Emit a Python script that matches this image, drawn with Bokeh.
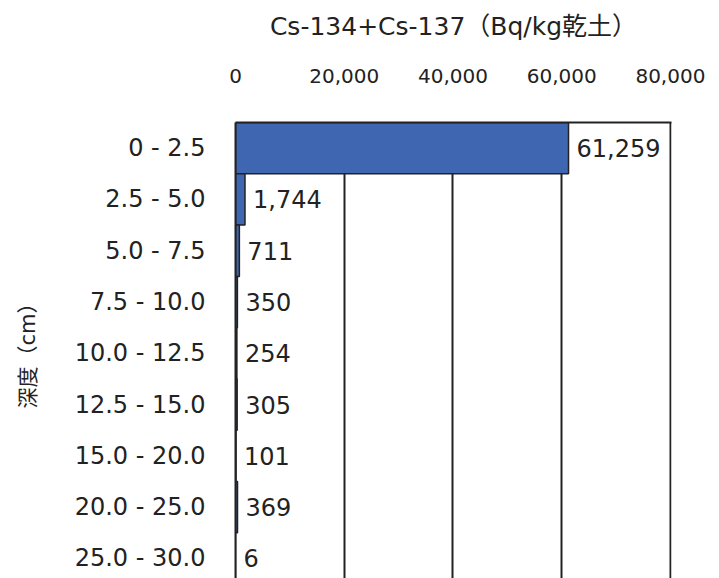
from bokeh.plotting import figure
from bokeh.models import Range1d, FixedTicker, NumeralTickFormatter, ColumnDataSource
from bokeh.embed import file_html
from bokeh.resources import INLINE

depths = ["0 - 2.5", "2.5 - 5.0", "5.0 - 7.5", "7.5 - 10.0", "10.0 - 12.5",
          "12.5 - 15.0", "15.0 - 20.0", "20.0 - 25.0", "25.0 - 30.0"]
values = [61259, 1744, 711, 350, 254, 305, 101, 369, 6]
x_ticks = [0, 20000, 40000, 60000, 80000]

FONT = "'DejaVu Sans', 'Noto Sans CJK JP'"
TXT = "#222222"

pos = list(range(len(depths)))
src = ColumnDataSource(dict(y=pos, v=values, lab=[f"{v:,}" for v in values]))

p = figure(width=719, height=578, output_backend="svg", toolbar_location=None,
           x_range=Range1d(0, 80200), y_range=Range1d(8.39, -0.5),
           x_axis_location="above", min_border_left=235, min_border_top=122,
           min_border_right=48, min_border_bottom=0)
p.outline_line_color = None

p.hbar(y="y", right="v", left=0, height=1.0, source=src,
       fill_color="#3F67B1", line_color="#222222", line_width=1.5)
p.text(x="v", y="y", text="lab", source=src, x_offset=8,
       text_align="left", text_baseline="middle", text_font_size="24px",
       text_color=TXT, text_font={"value": FONT})

xa = p.xaxis[0]
xa.ticker = FixedTicker(ticks=x_ticks)
xa.formatter = NumeralTickFormatter(format="0,0")
xa.axis_label = "Cs-134+Cs-137（Bq/kg乾土）"
xa.axis_label_text_font = FONT
xa.axis_label_text_font_style = "normal"
xa.axis_label_text_font_size = "25px"
xa.axis_label_text_color = TXT
xa.axis_label_standoff = 25
xa.major_label_text_font = FONT
xa.major_label_text_font_size = "20px"
xa.major_label_text_color = TXT
xa.major_label_standoff = 34
xa.major_tick_line_color = None
xa.minor_tick_line_color = None
xa.axis_line_color = "#222222"
xa.axis_line_width = 2

ya = p.yaxis[0]
ya.ticker = FixedTicker(ticks=pos)
ya.major_label_overrides = {i: d for i, d in enumerate(depths)}
ya.axis_label = "深度（cm）"
ya.axis_label_text_font = FONT
ya.axis_label_text_font_style = "normal"
ya.axis_label_text_font_size = "21px"
ya.axis_label_text_color = TXT
ya.axis_label_standoff = 32
ya.major_label_text_font = FONT
ya.major_label_text_font_size = "24px"
ya.major_label_text_color = TXT
ya.major_label_standoff = 24
ya.major_tick_line_color = None
ya.minor_tick_line_color = None
ya.axis_line_color = "#222222"
ya.axis_line_width = 2

p.xgrid.ticker = FixedTicker(ticks=x_ticks)
p.xgrid.grid_line_color = "#222222"
p.xgrid.grid_line_width = 2
p.ygrid.grid_line_color = None

open("out.html", "w").write(file_html(p, INLINE))
